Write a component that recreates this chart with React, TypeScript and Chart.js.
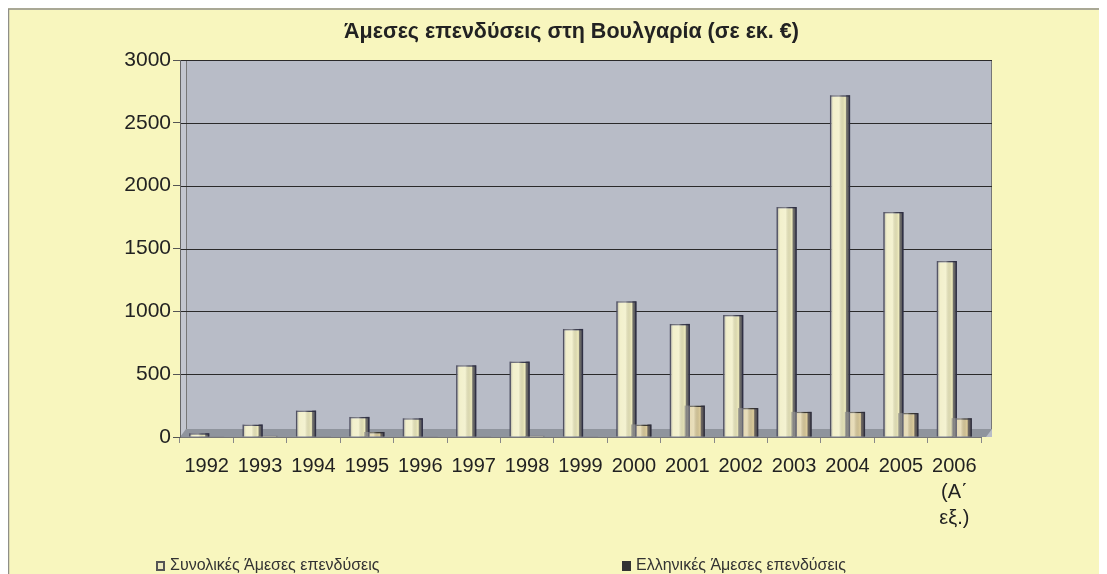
import React, { useEffect, useRef } from "react";
import { Chart, registerables } from "chart.js";

Chart.register(...registerables);

const categories: (string | string[])[] = [
  "1992", "1993", "1994", "1995", "1996", "1997", "1998", "1999",
  "2000", "2001", "2002", "2003", "2004", "2005", ["2006", "(Α΄", "εξ.)"],
];
const totalFDI = [30, 100, 210, 160, 150, 570, 600, 860, 1080, 900, 970, 1830, 2720, 1790, 1400];
const greekFDI = [5, 10, 5, 40, 5, 5, 10, 5, 100, 250, 230, 200, 200, 190, 150];
const seriesLabels = ["Συνολικές Άμεσες επενδύσεις", "Ελληνικές Άμεσες επενδύσεις"];
const titleText = "Άμεσες επενδύσεις στη Βουλγαρία (σε εκ. €)";
const yMin = 0;
const yMax = 3000;
const yStep = 500;

const BG = "#F8F6BE";
const PLOT = "#B8BCC7";
const TOTAL_COLOR = "#EEEBBE";
const GREEK_COLOR = "#DCCC9C";
const FONT = "'Liberation Sans', Arial, sans-serif";
const DEPTH = 11;

const backgroundPlugin = {
  id: "bgPlugin",
  beforeDraw(chart: any) {
    const { ctx, width, height, chartArea } = chart;
    ctx.save();
    ctx.fillStyle = BG;
    ctx.fillRect(0, 0, width, height);
    ctx.strokeStyle = "#8f8f88";
    ctx.lineWidth = 1.5;
    ctx.beginPath();
    ctx.moveTo(0.5, height);
    ctx.lineTo(0.5, 1);
    ctx.lineTo(width, 1);
    ctx.stroke();
    const right = chartArea.right + DEPTH;
    ctx.fillStyle = PLOT;
    ctx.fillRect(chartArea.left, chartArea.top, right - chartArea.left, chartArea.bottom - chartArea.top);
    // left side wall
    ctx.fillStyle = "#C3C6CF";
    ctx.fillRect(chartArea.left, chartArea.top, 6, chartArea.bottom - chartArea.top);
    ctx.strokeStyle = "#777";
    ctx.lineWidth = 1;
    ctx.beginPath();
    ctx.moveTo(chartArea.left + 6.5, chartArea.top);
    ctx.lineTo(chartArea.left + 6.5, chartArea.bottom - 8);
    ctx.moveTo(right - 0.5, chartArea.top);
    ctx.lineTo(right - 0.5, chartArea.bottom - 8);
    ctx.stroke();
    // gridlines (values from y scale)
    const ys = chart.scales.y;
    ctx.strokeStyle = "#2a2a2a";
    ctx.lineWidth = 1;
    ys.ticks.forEach((t: any) => {
      const py = Math.round(ys.getPixelForValue(t.value)) + 0.5;
      if (t.value === yMin) return;
      ctx.beginPath();
      ctx.moveTo(chartArea.left, py);
      ctx.lineTo(right, py);
      ctx.stroke();
    });
    // floor
    const y0 = ys.getPixelForValue(0);
    ctx.fillStyle = "#8F949D";
    ctx.beginPath();
    ctx.moveTo(chartArea.left, y0);
    ctx.lineTo(chartArea.left + 6, y0 - 8);
    ctx.lineTo(right, y0 - 8);
    ctx.lineTo(right - 6, y0);
    ctx.closePath();
    ctx.fill();
    // title
    ctx.fillStyle = "#222";
    ctx.font = `bold 21.5px ${FONT}`;
    ctx.textAlign = "center";
    ctx.textBaseline = "middle";
    ctx.fillText(titleText, 563.5, 24);
    ctx.restore();
  },
  afterDatasetsDraw(chart: any) {
    const { ctx } = chart;
    ctx.save();
    chart.data.datasets.forEach((_ds: any, di: number) => {
      const meta = chart.getDatasetMeta(di);
      meta.data.forEach((el: any) => {
        const w = el.width;
        const x0 = el.x - w / 2;
        const top = Math.min(el.y, el.base);
        const h = Math.abs(el.base - el.y);
        if (h < 1) return;
        const g = ctx.createLinearGradient(x0, 0, x0 + w, 0);
        g.addColorStop(0, "rgba(70,70,90,0.55)");
        g.addColorStop(0.18, "rgba(255,255,245,0.25)");
        g.addColorStop(0.45, "rgba(255,255,245,0.35)");
        g.addColorStop(0.75, "rgba(0,0,0,0)");
        g.addColorStop(1, "rgba(40,40,60,0.65)");
        ctx.fillStyle = g;
        ctx.fillRect(x0, top, w, h);
        ctx.fillStyle = "rgba(50,50,70,0.55)";
        ctx.fillRect(x0 + w * 0.8, top, w * 0.2, h);
      });
    });
    ctx.restore();
  },
  afterDraw(chart: any) {
    const { ctx } = chart;
    ctx.save();
    ctx.font = `16px ${FONT}`;
    ctx.textBaseline = "middle";
    const yc = 558;
    const xs = [148, 614];
    chart.data.datasets.forEach((ds: any, i: number) => {
      const x = xs[i];
      ctx.fillStyle = i === 0 ? "#555" : "#333";
      ctx.fillRect(x, yc - 5, 9, 10);
      if (i === 0) {
        ctx.fillStyle = TOTAL_COLOR;
        ctx.fillRect(x + 2, yc - 3, 5, 6);
      }
      ctx.fillStyle = "#333";
      ctx.fillText(ds.label, x + 14, yc);
    });
    ctx.restore();
  },
};

export default function App() {
  const ref = useRef<HTMLCanvasElement>(null);
  useEffect(() => {
    if (!ref.current) return;
    const chart = new Chart(ref.current, {
      type: "bar",
      data: {
        labels: categories as any,
        datasets: [
          {
            label: seriesLabels[0],
            data: totalFDI,
            backgroundColor: TOTAL_COLOR,
            borderColor: "#3E3F52",
            borderWidth: 1.5,
          },
          {
            label: seriesLabels[1],
            data: greekFDI,
            backgroundColor: GREEK_COLOR,
            borderColor: "#3E3A30",
            borderWidth: 1.5,
          },
        ],
      },
      options: {
        animation: false,
        responsive: false,
        maintainAspectRatio: false,
        layout: { padding: { left: 28, right: 126, top: 52, bottom: 0 } },
        datasets: { bar: { categoryPercentage: 0.56, barPercentage: 1.35 } },
        plugins: {
          legend: { display: false },
          tooltip: { enabled: false },
          title: { display: false },
        },
        scales: {
          x: {
            offset: true,
            afterFit(scale: any) {
              scale.height = 137;
            },
            grid: {
              display: true,
              drawOnChartArea: false,
              drawTicks: true,
              tickLength: 6,
              color: "#888",
              offset: true,
            },
            border: { display: true, color: "#777" },
            ticks: {
              color: "#222",
              font: { family: FONT, size: 20, lineHeight: 1.3 },
              padding: 10,
              maxRotation: 0,
              autoSkip: false,
            },
          },
          y: {
            min: yMin,
            max: yMax,
            afterFit(scale: any) {
              scale.width = 144;
            },
            grid: {
              color: "#555",
              lineWidth: 1,
              tickLength: 7,
              drawTicks: true,
              drawOnChartArea: false,
            },
            border: { display: true, color: "#666" },
            ticks: {
              stepSize: yStep,
              color: "#222",
              font: { family: FONT, size: 21 },
              padding: 2,
              callback: (v: any) => String(v),
            },
          },
        },
      },
      plugins: [backgroundPlugin],
    });
    return () => chart.destroy();
  }, []);
  return <canvas ref={ref} width={1099} height={566} style={{ display: "block" }} />;
}
